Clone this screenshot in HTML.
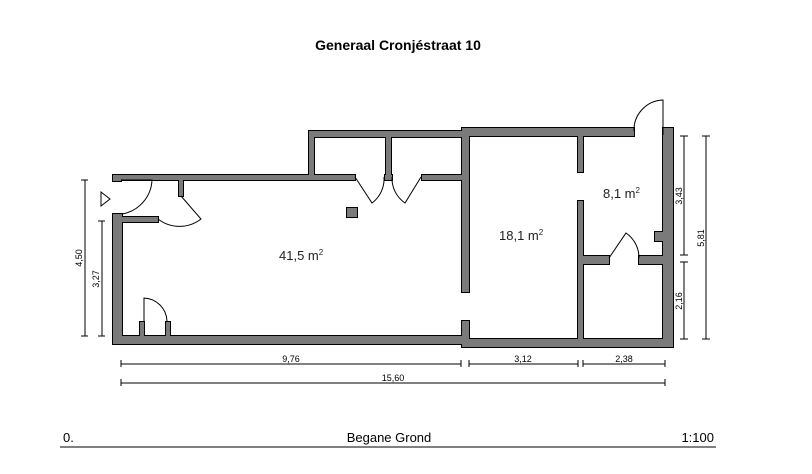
<!DOCTYPE html>
<html><head><meta charset="utf-8"><style>
html,body{margin:0;padding:0;background:#fff;}
svg{display:block;font-family:"Liberation Sans",Arial,sans-serif;}
</style></head><body>
<svg width="812" height="474" viewBox="0 0 812 474" xmlns="http://www.w3.org/2000/svg">
<defs>
<g id="walls">
<rect x="113" y="175" width="8" height="6"/>
<rect x="113" y="175" width="242" height="5"/>
<rect x="309" y="131" width="5" height="45"/>
<rect x="309" y="131" width="153" height="6"/>
<rect x="386" y="131" width="5" height="45"/>
<rect x="385" y="175" width="7" height="5"/>
<rect x="422" y="175" width="40" height="5"/>
<rect x="113" y="214" width="9" height="130"/>
<rect x="113" y="217" width="45" height="5"/>
<rect x="179" y="175" width="4" height="21"/>
<rect x="113" y="336" width="356" height="8"/>
<rect x="140" y="322" width="4" height="18"/>
<rect x="166" y="322" width="4" height="18"/>
<rect x="347" y="208" width="10" height="9"/>
<rect x="462" y="128" width="172" height="8"/>
<rect x="663" y="128" width="10" height="219"/>
<rect x="462" y="128" width="7" height="164"/>
<rect x="462" y="321" width="7" height="26"/>
<rect x="462" y="339" width="211" height="8"/>
<rect x="578" y="128" width="5" height="44"/>
<rect x="578" y="201" width="5" height="142"/>
<rect x="578" y="256" width="31" height="8"/>
<rect x="639" y="256" width="28" height="8"/>
<rect x="655" y="232" width="9" height="9"/>
</g>
</defs>
<text x="398" y="50" font-size="14" font-weight="bold" text-anchor="middle">Generaal Cronjéstraat 10</text>
<use href="#walls" fill="#000" stroke="#000" stroke-width="2"/>
<use href="#walls" fill="#7a7a7a"/>
<g fill="none" stroke="#000" stroke-width="1">
<path d="M121 180 H152 A36 36 0 0 1 122 214"/>
<path d="M181 196 L201 219 A35 35 0 0 1 158 219"/>
<path d="M355 177 L372 203 A30 30 0 0 0 384 177"/>
<path d="M421 177 L405 203 A30 30 0 0 1 392 177"/>
<path d="M144 321 V298 A24 24 0 0 1 167 321"/>
<path d="M663 135 V100 A30 30 0 0 0 634 131"/>
<path d="M609 258 L626 233 A30 30 0 0 1 639 258"/>
<path d="M101 192 L110 199 L101 206 Z"/>
<path d="M85 180 V336 M81 180 H88 M81 336 H88"/>
<path d="M102 221 V336 M98 221 H105 M98 336 H105"/>
<path d="M684 136 V255 M680 136 H688 M680 255 H688"/>
<path d="M684 262 V339 M680 262 H688 M680 339 H688"/>
<path d="M706 136 V339 M702 136 H710 M702 339 H710"/>
<path d="M121 364 H461 M121 360 V367 M461 360 V367"/>
<path d="M469 364 H578 M469 360 V367 M578 360 V367"/>
<path d="M583 364 H665 M583 360 V367 M665 360 V367"/>
<path d="M121 383 H665 M121 379 V386 M665 379 V386"/>
<path d="M60 447 H716"/>
</g>
<g font-size="9" text-anchor="middle">
<text x="291" y="362">9,76</text>
<text x="523" y="362">3,12</text>
<text x="624" y="362">2,38</text>
<text x="393" y="381">15,60</text>
<text transform="translate(82 258) rotate(-90)">4,50</text>
<text transform="translate(99 279) rotate(-90)">3,27</text>
<text transform="translate(682 196) rotate(-90)">3,43</text>
<text transform="translate(682 301) rotate(-90)">2,16</text>
<text transform="translate(704 238) rotate(-90)">5,81</text>
</g>
<g font-size="13" fill="#222">
<text x="279" y="260">41,5 m<tspan font-size="8" dy="-5">2</tspan></text>
<text x="499" y="240">18,1 m<tspan font-size="8" dy="-5">2</tspan></text>
<text x="603" y="198">8,1 m<tspan font-size="8" dy="-5">2</tspan></text>
</g>
<g font-size="13">
<text x="63" y="442">0.</text>
<text x="389" y="442" text-anchor="middle">Begane Grond</text>
<text x="714" y="442" text-anchor="end">1:100</text>
</g>
</svg>
</body></html>
